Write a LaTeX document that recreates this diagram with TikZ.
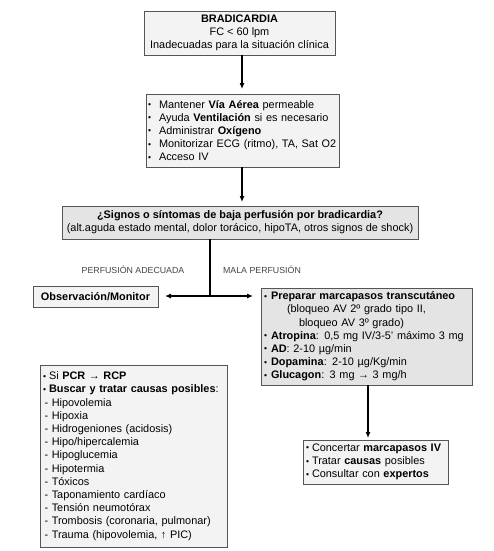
\documentclass[tikz,border=0pt]{standalone}
\usepackage{fontspec}
\setmainfont{Liberation Sans}
\usetikzlibrary{arrows.meta}
\definecolor{boxline}{HTML}{555555}
\definecolor{fillA}{HTML}{F3F3F3}
\definecolor{fillB}{HTML}{E4E4E4}
\definecolor{labgray}{HTML}{444444}
\newcommand\bul[1][6pt]{\makebox[#1][l]{\raisebox{0.6pt}{\fontsize{8.5}{8.5}\selectfont •}}}
\begin{document}
\begin{tikzpicture}[x=1pt,y=-1pt,
  every node/.style={font=\fontsize{10.9}{13.2}\selectfont},
  box/.style={draw=boxline, line width=0.9pt, fill=fillA, inner sep=0pt, outer sep=0pt},
  darkbox/.style={box, fill=fillB},
  arr/.style={line width=1.1pt, -{Latex[length=6pt,width=5pt]}},
  conn/.style={line width=1.1pt},
  lab/.style={font=\fontsize{8.8}{10}\selectfont, text=labgray}]
\useasboundingbox (0,0) rectangle (494,551);
\fill[white] (0,0) rectangle (494,551);

\node[box, minimum width=191, minimum height=44, align=center] (b1) at (239.5,33)
  {\textbf{BRADICARDIA}\\FC < 60 lpm\\Inadecuadas para la situación clínica};

\node[box, minimum width=193, minimum height=73, text width=189pt, align=left] (b2) at (242.5,130.5)
  {\bul[11pt]Mantener \textbf{Vía Aérea} permeable\\
   \bul[11pt]Ayuda \textbf{Ventilación} si es necesario\\
   \bul[11pt]Administrar \textbf{Oxígeno}\\
   \bul[11pt]Monitorizar ECG (ritmo), TA, Sat O2\\
   \bul[11pt]Acceso IV};

\node[darkbox, minimum width=356, minimum height=33, align=center] (b3) at (240,222.5)
  {\textbf{¿Signos o síntomas de baja perfusión por bradicardia?}\\
   (alt.aguda estado mental, dolor torácico, hipoTA, otros signos de shock)};

\node[box, minimum width=125, minimum height=21, align=center] (obs) at (95.5,296.5)
  {\textbf{Observación/Monitor}};

\node[darkbox, minimum width=211, minimum height=97, text width=205pt, align=left] (rb) at (366.5,336.5)
  {\bul[7pt]\textbf{Preparar marcapasos transcutáneo}\\
   \hspace*{23pt}(bloqueo AV 2º grado tipo II,\\
   \hspace*{35pt}bloqueo AV 3º grado)\\
   \bul[7pt]\textbf{Atropina}: 0,5 mg IV/3-5' máximo 3 mg\\
   \bul[7pt]\textbf{AD}: 2-10 µg/min\\
   \bul[7pt]\textbf{Dopamina}: 2-10 µg/Kg/min\\
   \bul[7pt]\textbf{Glucagon}: 3 mg → 3 mg/h};

\node[box, minimum width=187, minimum height=182, text width=181pt, align=left] (pcr) at (133.5,456)
  {\bul Si \textbf{PCR → RCP}\\
   \bul\textbf{Buscar y tratar causas posibles}:\\
   \hspace*{1.5pt}- Hipovolemia\\
   \hspace*{1.5pt}- Hipoxia\\
   \hspace*{1.5pt}- Hidrogeniones (acidosis)\\
   \hspace*{1.5pt}- Hipo/hipercalemia\\
   \hspace*{1.5pt}- Hipoglucemia\\
   \hspace*{1.5pt}- Hipotermia\\
   \hspace*{1.5pt}- Tóxicos\\
   \hspace*{1.5pt}- Taponamiento cardíaco\\
   \hspace*{1.5pt}- Tensión neumotórax\\
   \hspace*{1.5pt}- Trombosis (coronaria, pulmonar)\\
   \hspace*{1.5pt}- Trauma (hipovolemia, ↑ PIC)};

\node[box, minimum width=145, minimum height=44, text width=139pt, align=left] (cb) at (375.5,462)
  {\bul Concertar \textbf{marcapasos IV}\\
   \bul Tratar \textbf{causas} posibles\\
   \bul Consultar con \textbf{expertos}};

\node[lab] (l1) at (133,270) {PERFUSIÓN ADECUADA};
\node[lab] (l2) at (262,270) {MALA PERFUSIÓN};

\coordinate (a1) at (242,0);
\draw[arr, shorten >=5pt] (a1 |- b1.south) -- (a1 |- b2.north);
\draw[arr, shorten >=4pt] (a1 |- b2.south) -- (a1 |- b3.north);

\coordinate (j) at (210,296);
\draw[conn] (j |- b3.south) -- (j);
\draw[arr, shorten >=7pt] (j) -- (j -| obs.east);
\draw[arr, shorten >=8pt] (j) -- (j -| rb.west);

\coordinate (k) at (368,0);
\draw[arr, shorten >=2pt] (k |- rb.south) -- (k |- cb.north);
\end{tikzpicture}
\end{document}
